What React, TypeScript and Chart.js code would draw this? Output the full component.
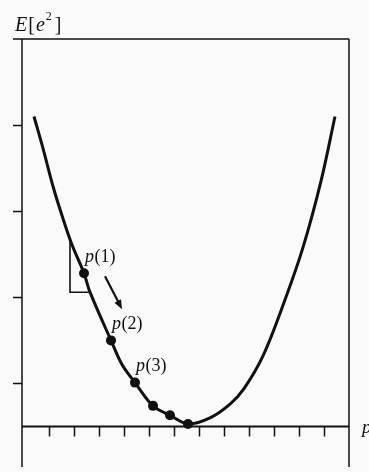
import React, { useEffect, useRef } from "react";
import { Chart, registerables } from "chart.js";

Chart.register(...registerables);

// Error surface E[e^2] as a function of the parameter p
const curveX = [-0.6, -0.24, 0.16, 0.52, 0.92, 1.4, 1.64, 2.48, 2.92, 3.44, 4.16, 4.84, 5.56, 6.44, 7.24, 7.8, 8.56, 9.4, 10.16, 10.88, 11.44];
const curveY = [3.6, 3.23, 2.79, 2.45, 2.11, 1.78, 1.56, 1.0, 0.72, 0.51, 0.24, 0.13, 0.03, 0.1, 0.26, 0.44, 0.82, 1.44, 2.08, 2.85, 3.6];

// Successive iterates p(1), p(2), ... descending toward the minimum
const iterX = [1.4, 2.48, 3.44, 4.16, 4.84, 5.56];
const iterY = [1.78, 1.0, 0.51, 0.24, 0.13, 0.03];
const iterLabels = ["p(1)", "p(2)", "p(3)"];

// Gradient triangle at the first iterate
const slopeX = [0.84, 1.64];
const slopeY = [2.18, 1.56];

const xTicks = [0, 1, 2, 3, 4, 5, 6, 7, 8, 9, 10, 11];
const yTicks = [0.5, 1.5, 2.5, 3.5];

const SERIF = '"Liberation Serif", "DejaVu Serif", serif';
const INK = "#111";

const framePlugin = {
  id: "frame",
  beforeDraw(chart: any) {
    const { ctx, width, height } = chart;
    ctx.save();
    ctx.fillStyle = "#fafafa";
    ctx.fillRect(0, 0, width, height);
    ctx.restore();
  },
  afterDraw(chart: any) {
    const { ctx, chartArea } = chart;
    const xs = chart.scales.x;
    const ys = chart.scales.y;
    const { left, right, top, bottom } = chartArea;
    const y0 = ys.getPixelForValue(0);
    ctx.save();
    ctx.strokeStyle = INK;
    ctx.lineCap = "butt";

    // box
    ctx.lineWidth = 1.5;
    ctx.beginPath();
    ctx.moveTo(13, top);
    ctx.lineTo(right, top);
    ctx.moveTo(left, top);
    ctx.lineTo(left, bottom);
    ctx.moveTo(right, top);
    ctx.lineTo(right, bottom);
    ctx.stroke();

    // horizontal axis
    ctx.lineWidth = 2;
    ctx.beginPath();
    ctx.moveTo(left, y0);
    ctx.lineTo(right, y0);
    ctx.stroke();

    // ticks
    ctx.lineWidth = 1.5;
    ctx.beginPath();
    xTicks.forEach((t) => {
      const px = Math.round(xs.getPixelForValue(t)) + 0.5;
      ctx.moveTo(px, y0);
      ctx.lineTo(px, y0 + 10);
    });
    yTicks.forEach((t) => {
      const py = Math.round(ys.getPixelForValue(t)) + 0.5;
      ctx.moveTo(left, py);
      ctx.lineTo(left - 9, py);
    });
    ctx.stroke();

    // gradient triangle
    const tx0 = xs.getPixelForValue(slopeX[0]);
    const tx1 = xs.getPixelForValue(slopeX[1]);
    const ty0 = ys.getPixelForValue(slopeY[0]);
    const ty1 = ys.getPixelForValue(slopeY[1]);
    ctx.lineWidth = 1.6;
    ctx.beginPath();
    ctx.moveTo(tx0, ty0);
    ctx.lineTo(tx0, ty1);
    ctx.lineTo(tx1, ty1);
    ctx.stroke();

    // iterate labels
    ctx.fillStyle = INK;
    ctx.textBaseline = "middle";
    ctx.textAlign = "left";
    iterLabels.forEach((lab, i) => {
      const px = xs.getPixelForValue(iterX[i]);
      const py = ys.getPixelForValue(iterY[i]);
      ctx.font = `italic 18px ${SERIF}`;
      ctx.fillText("p", px + 1, py - 16);
      const w = ctx.measureText("p").width;
      ctx.font = `18px ${SERIF}`;
      ctx.fillText(lab.slice(1), px + 1 + w + 0.5, py - 16);
    });

    // arrow from p(1) toward p(2)
    const ax = xs.getPixelForValue(iterX[0]);
    const ay = ys.getPixelForValue(iterY[0]);
    const sx = ax + 21, sy = ay + 3;
    const ex = ax + 38, ey = ay + 36;
    ctx.lineWidth = 2.2;
    ctx.beginPath();
    ctx.moveTo(sx, sy);
    ctx.lineTo(ex - 3, ey - 6);
    ctx.stroke();
    const ang = Math.atan2(ey - sy, ex - sx);
    ctx.beginPath();
    ctx.moveTo(ex, ey);
    ctx.lineTo(ex - 10 * Math.cos(ang - 0.38), ey - 10 * Math.sin(ang - 0.38));
    ctx.lineTo(ex - 10 * Math.cos(ang + 0.38), ey - 10 * Math.sin(ang + 0.38));
    ctx.closePath();
    ctx.fill();

    // vertical axis title E[e^2]
    ctx.textBaseline = "alphabetic";
    let cx = 15;
    const base = 31;
    ctx.font = `italic 20px ${SERIF}`;
    ctx.fillText("E", cx, base);
    cx += ctx.measureText("E").width + 1;
    ctx.font = `20px ${SERIF}`;
    ctx.fillText("[", cx, base);
    cx += ctx.measureText("[").width + 1;
    ctx.font = `italic 20px ${SERIF}`;
    ctx.fillText("e", cx, base);
    cx += ctx.measureText("e").width + 1;
    ctx.font = `12px ${SERIF}`;
    ctx.fillText("2", cx, base - 11);
    cx += ctx.measureText("2").width + 3;
    ctx.font = `20px ${SERIF}`;
    ctx.fillText("]", cx, base);

    // horizontal axis title p
    ctx.font = `italic 19px ${SERIF}`;
    ctx.textBaseline = "middle";
    ctx.fillText("p", right + 13, y0 + 1);

    ctx.restore();
  },
};

export default function App() {
  const ref = useRef<HTMLCanvasElement | null>(null);

  useEffect(() => {
    document.body.style.margin = "0";
    const canvas = ref.current;
    if (!canvas) return;
    const chart = new Chart(canvas, {
      type: "scatter",
      data: {
        datasets: [
          {
            data: curveX.map((x, i) => ({ x, y: curveY[i] })),
            showLine: true,
            borderColor: INK,
            borderWidth: 3,
            pointRadius: 0,
            tension: 0.35,
            fill: false,
          },
          {
            data: iterX.map((x, i) => ({ x, y: iterY[i] })),
            showLine: false,
            pointRadius: 5,
            backgroundColor: INK,
            borderWidth: 0,
          },
        ],
      },
      options: {
        animation: false,
        responsive: false,
        devicePixelRatio: 1,
        layout: { padding: { left: 22, right: 20, top: 39, bottom: 0 } },
        scales: {
          x: { type: "linear", min: -1.08, max: 12, display: false },
          y: { type: "linear", min: -0.47, max: 4.5, display: false },
        },
        plugins: {
          legend: { display: false },
          tooltip: { enabled: false },
        },
        events: [],
      },
      plugins: [framePlugin],
    });
    return () => chart.destroy();
  }, []);

  return (
    <canvas
      ref={ref}
      width={369}
      height={472}
      style={{ display: "block", width: 369, height: 472 }}
    />
  );
}
